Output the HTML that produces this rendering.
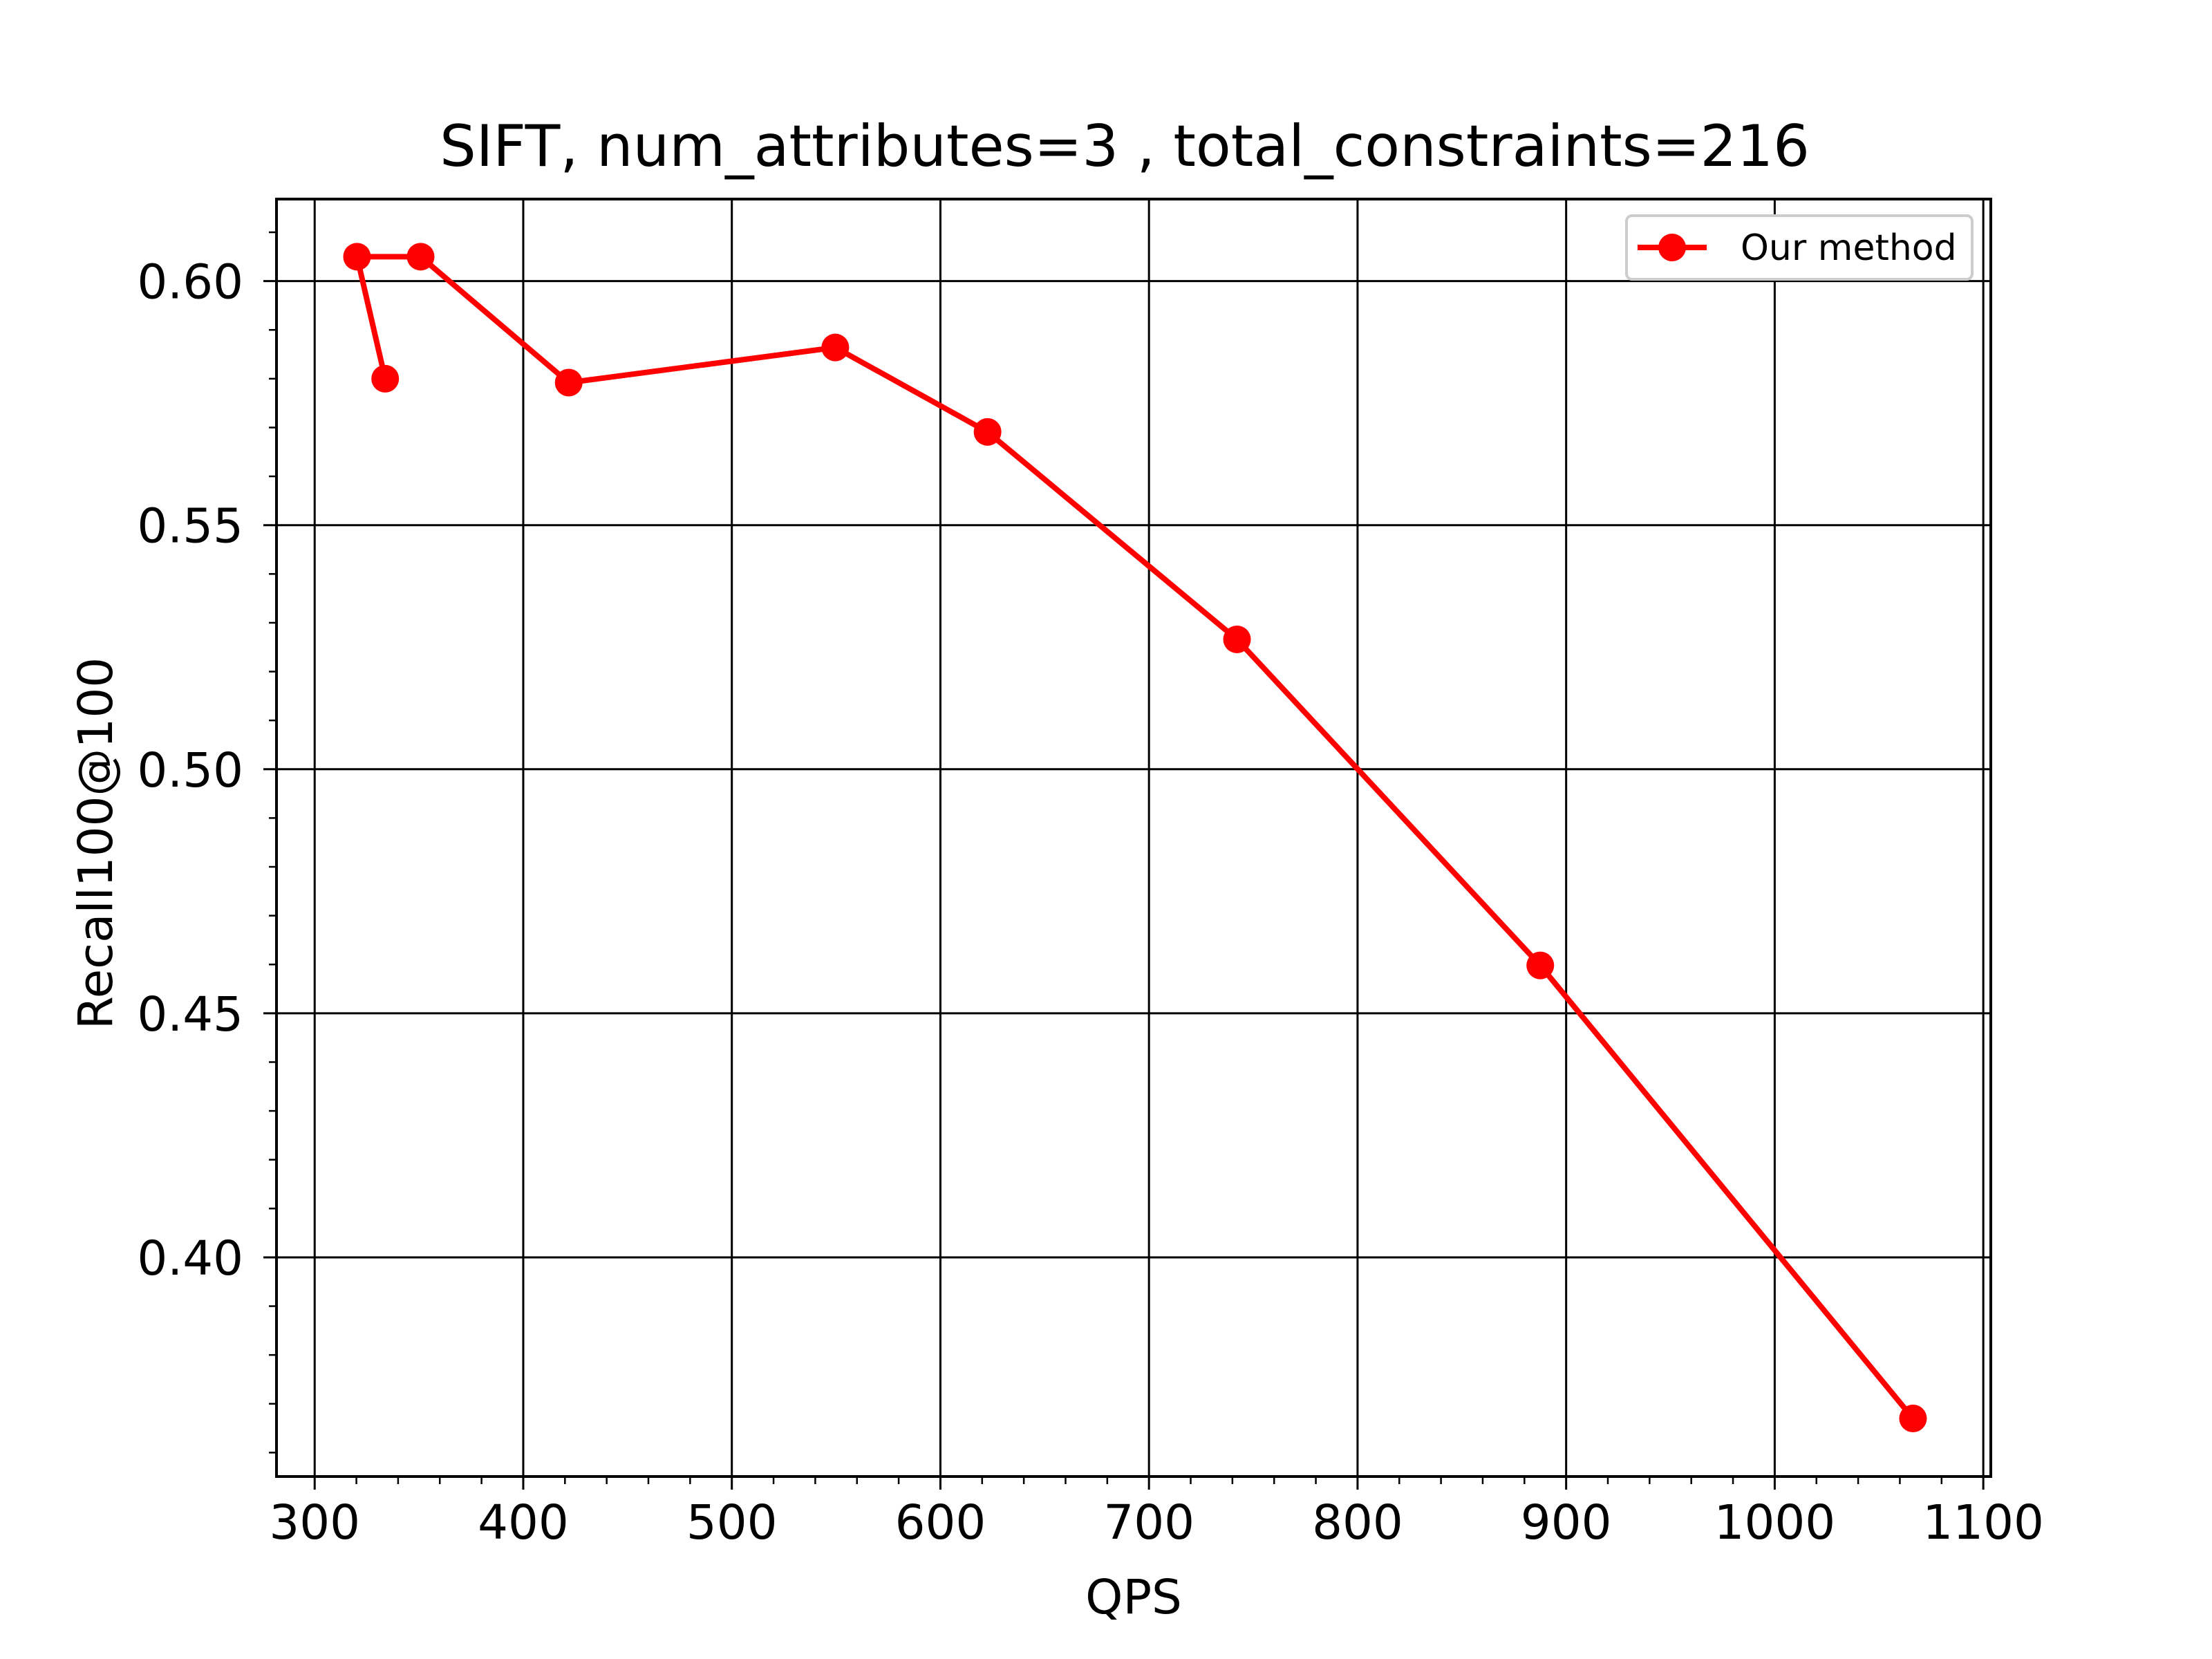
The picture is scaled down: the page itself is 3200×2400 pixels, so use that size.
<!DOCTYPE html>
<html><head><meta charset="utf-8"><style>
html,body{margin:0;padding:0;background:#fff;}
svg{display:block;font-family:"DejaVu Sans","Liberation Sans",sans-serif;}
</style></head><body>
<svg id="chart" width="3200" height="2400" viewBox="0 0 3200 2400" xmlns="http://www.w3.org/2000/svg">
<rect x="0" y="0" width="3200" height="2400" fill="#fff"/>
<g id="grid"></g>
<g id="axes"></g>
<g id="series"></g>
<text x="1627" y="240" font-size="83" text-anchor="middle">SIFT, num_attributes=3 , total_constraints=216</text>
<text x="1640" y="2334" font-size="69" text-anchor="middle">QPS</text>
<text x="0" y="0" font-size="69" text-anchor="middle" transform="translate(162,1220) rotate(-90)">Recall100@100</text>
<g>
<rect x="2353" y="312" width="500" height="92" fill="#fff" stroke="#ccc" stroke-width="4" rx="8"/>
<line x1="2369" y1="358" x2="2469" y2="358" stroke="#ff0000" stroke-width="8"/>
<circle cx="2419" cy="358" r="20" fill="#ff0000"/>
<text x="2518" y="376" font-size="52">Our method</text>
</g>
</svg>
<script>
const qps = [333.8, 320.3, 350.8, 421.8, 549.6, 622.6, 742.2, 887.6, 1066.3];
const recall = [0.580, 0.605, 0.605, 0.5792, 0.5864, 0.5691, 0.5266, 0.4598, 0.367];
const xTicks = [300, 400, 500, 600, 700, 800, 900, 1000, 1100];
const yTicks = [0.40, 0.45, 0.50, 0.55, 0.60];
const xTickLabels = ["300","400","500","600","700","800","900","1000","1100"];
const yTickLabels = ["0.40","0.45","0.50","0.55","0.60"];

const L=400,R=2880,T=288,B=2136;
const xmin=281.7,xmax=1103.6,ymin=0.3551,ymax=0.6168;
const sx=v=>L+(v-xmin)/(xmax-xmin)*(R-L);
const sy=v=>B-(v-ymin)/(ymax-ymin)*(B-T);
const NS="http://www.w3.org/2000/svg";
function mk(tag,attrs,parent){const e=document.createElementNS(NS,tag);for(const k in attrs)e.setAttribute(k,attrs[k]);parent.appendChild(e);return e;}
const grid=document.getElementById('grid'),axes=document.getElementById('axes'),ser=document.getElementById('series');

xTicks.forEach((v,i)=>{
  const x=sx(v);
  const g=mk('line',{x1:x,y1:T,x2:x,y2:B,stroke:'#000','stroke-width':3},grid);
  
  
  const t=mk('line',{x1:x,y1:B,x2:x,y2:B+19,stroke:'#000','stroke-width':3},axes);
  
  
  const lb=mk('text',{x:x,y:B+90,'font-size':69,'text-anchor':'middle'},axes);
  lb.textContent=xTickLabels[i];
  
  
});
for(let v=300;v<=1100;v+=20){
  if(v%100===0)continue;
  const x=sx(v);
  const m=mk('line',{x1:x,y1:B,x2:x,y2:B+11,stroke:'#000','stroke-width':2.5},axes);
  
  
}
yTicks.forEach((v,i)=>{
  const y=sy(v);
  const g=mk('line',{x1:L,y1:y,x2:R,y2:y,stroke:'#000','stroke-width':3},grid);
  
  
  const t=mk('line',{x1:L-19,y1:y,x2:L,y2:y,stroke:'#000','stroke-width':3},axes);
  
  
  const lb=mk('text',{x:L-48,y:y+25,'font-size':69,'text-anchor':'end'},axes);
  lb.textContent=yTickLabels[i];
  
  
});
for(let k=36;k<=61;k++){
  if(k%5===0)continue;
  const y=sy(k/100);
  const m=mk('line',{x1:L-11,y1:y,x2:L,y2:y,stroke:'#000','stroke-width':2.5},axes);
  
  
}
const frame=mk('rect',{x:L,y:T,width:R-L,height:B-T,fill:'none',stroke:'#000','stroke-width':4},axes);



const pts=qps.map((q,i)=>sx(q)+','+sy(recall[i])).join(' ');
const pl=mk('polyline',{points:pts,fill:'none',stroke:'#ff0000','stroke-width':8,'stroke-linejoin':'round'},ser);


qps.forEach((q,i)=>{
  const c=mk('circle',{cx:sx(q),cy:sy(recall[i]),r:20,fill:'#ff0000'},ser);
  
  
});
</script>
</body></html>
